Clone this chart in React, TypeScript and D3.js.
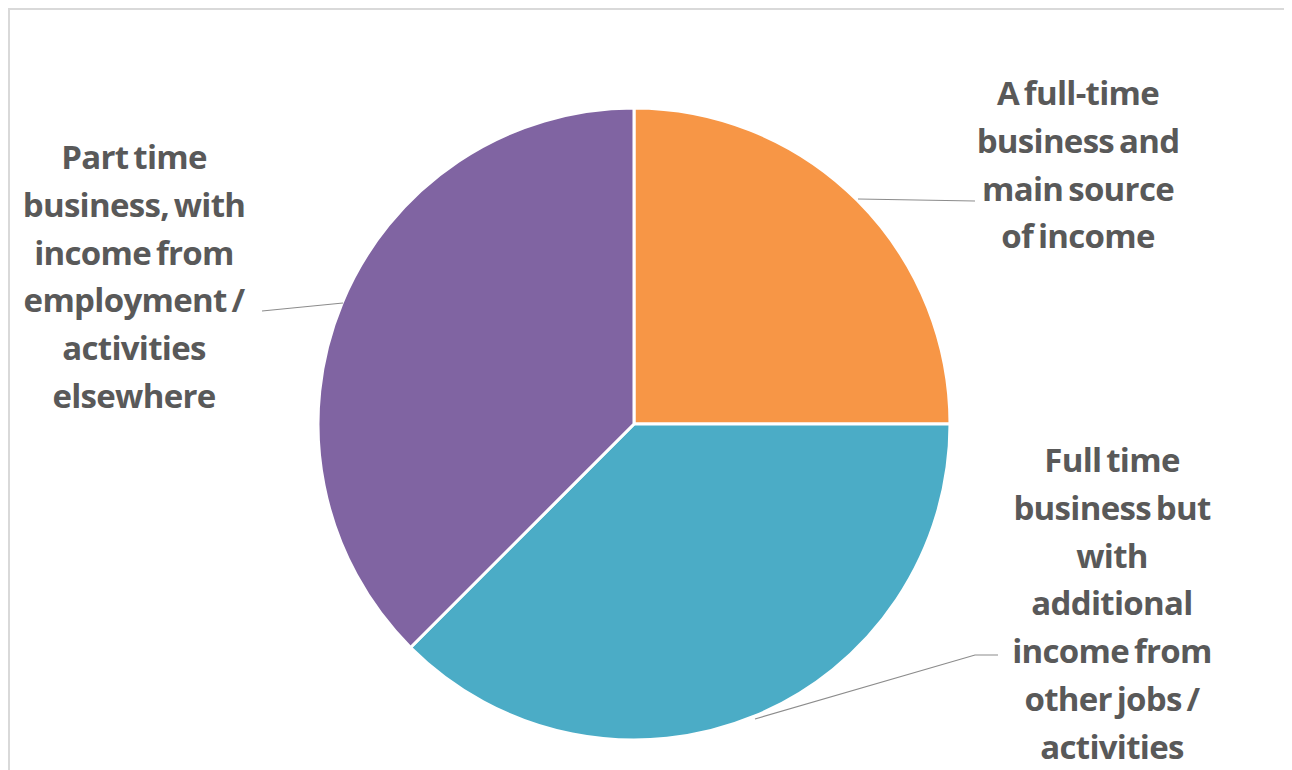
import React from "react";
import * as d3 from "d3";

const categories = [
  "A full-time business and main source of income",
  "Full time business but with additional income from other jobs / activities",
  "Part time business, with income from employment / activities elsewhere",
];
const values = [25, 37.5, 37.5];
const colors = ["#F79646", "#4BACC6", "#8064A2"];
const labelLines = [
  ["A full-time", "business and", "main source", "of income"],
  ["Full time", "business but", "with", "additional", "income from", "other jobs /", "activities"],
  ["Part time", "business, with", "income from", "employment /", "activities", "elsewhere"],
];

const W = 1278;
const H = 762;
const OX = 8, OY = 8;
const cx = 634 - OX, cy = 424 - OY, R = 316;

// label anchors (center x, first baseline), leader line points in page coords
const labelPos = [
  { x: 1078, y: 105, leader: [[858, 199], [975, 201]] },
  { x: 1112, y: 472, leader: [[755, 719], [975, 655], [998, 655]] },
  { x: 134, y: 169, leader: [[343, 303], [262, 311]] },
];
const lineH = 47.8;

export default function App() {
  const pie = d3.pie<number>().value((d) => d).sort(null);
  const arcs = pie(values);
  const arc = d3.arc<d3.PieArcDatum<number>>().innerRadius(0).outerRadius(R);
  const line = d3.line();
  return (
    <svg width={W} height={H} style={{ display: "block" }}>
      <rect x={1} y={1} width={W - 2} height={H + 20} fill="#fff" stroke="#d9d9d9" strokeWidth={2} />
      <g transform={`translate(${cx},${cy})`}>
        {arcs.map((a, i) => (
          <path key={categories[i]} d={arc(a) || ""} fill={colors[i]} stroke="#fff" strokeWidth={3} strokeLinejoin="round" />
        ))}
      </g>
      {labelPos.map((p, i) => (
        <g key={i}>
          <path
            d={line(p.leader.map(([x, y]) => [x - OX, y - OY]) as [number, number][]) || ""}
            fill="none"
            stroke="#8c8c8c"
            strokeWidth={1.2}
          />
          <text
            textAnchor="middle"
            fontFamily="'Open Sans', Lato, sans-serif"
            fontWeight={700}
            fontSize={33}
            letterSpacing={-0.7}
            wordSpacing={-3}
            fill="#595959"
          >
            {labelLines[i].map((t, j) => (
              <tspan key={j} x={p.x - OX} y={p.y - OY + j * lineH}>
                {t}
              </tspan>
            ))}
          </text>
        </g>
      ))}
    </svg>
  );
}
